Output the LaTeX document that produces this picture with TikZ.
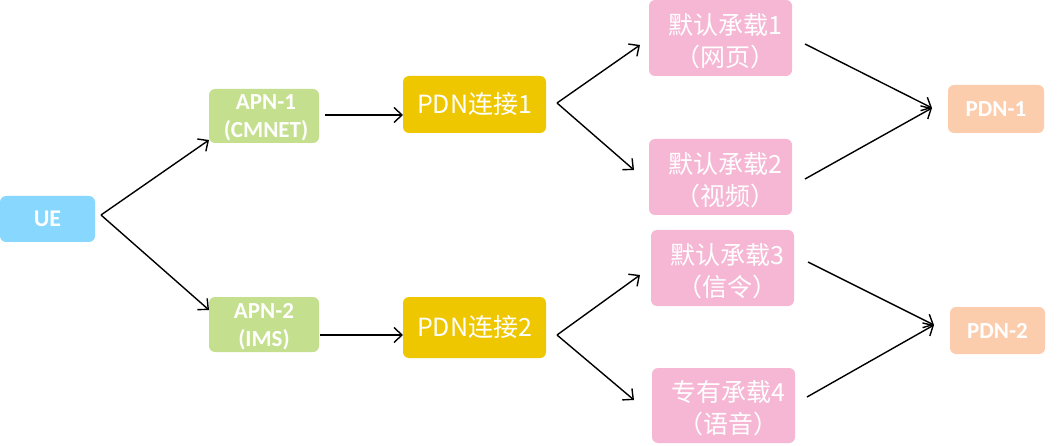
\documentclass[tikz,border=0pt]{standalone}
\usepackage{fontspec}
\setmainfont{Carlito}
\newfontfamily\cjk{Noto Sans CJK SC}
\usetikzlibrary{arrows.meta}
\definecolor{ueblue}{HTML}{87D7FE}
\definecolor{apngreen}{HTML}{C4DF8D}
\definecolor{pdnyellow}{HTML}{EFC700}
\definecolor{bearpink}{HTML}{F5B7D4}
\definecolor{peach}{HTML}{FBCDAD}
\begin{document}
\begin{tikzpicture}[x=1pt,y=-1pt,
  box/.style={rounded corners=6pt, inner sep=0pt, text=white, align=center},
  latinbox/.style={box, font=\bfseries\fontsize{23}{28}\selectfont},
  latintext/.style={text=white, font=\bfseries\fontsize{23}{28}\selectfont, align=center, inner sep=0pt},
  pdnbox/.style={box, fill=pdnyellow, minimum width=143pt, font=\cjk\fontsize{25}{28}\selectfont},
  bearbox/.style={box, fill=bearpink, minimum width=143pt, minimum height=76pt},
  beartext/.style={text=white, font=\cjk\fontsize{25}{32}\selectfont, align=center, inner sep=0pt},
  ar/.style={-{Straight Barb[length=8pt,width=15pt]}, line width=1.4pt}]
\fill[white] (0,0) rectangle (1059,446);
% nodes
\node[latinbox, fill=ueblue, minimum width=95pt, minimum height=46pt, font=\bfseries\fontsize{24}{28}\selectfont] (ue) at (47.5,219) {UE};
\node[box, fill=apngreen, minimum width=110pt, minimum height=54pt] (apn1) at (264,116) {};
\node[latintext] (apn1t) at (266,118) {APN-1\\(CMNET)};
\node[box, fill=apngreen, minimum width=110pt, minimum height=55pt] (apn2) at (264,324.5) {};
\node[latintext] (apn2t) at (264,327) {APN-2\\(IMS)};
\node[pdnbox, minimum height=57pt] (pdn1) at (474.5,104.5) {PDN连接1};
\node[pdnbox, minimum height=61pt] (pdn2) at (474.5,327.5) {PDN连接2};
\node[bearbox] (b1) at (720.5,38) {};
\node[beartext] (b1t) at (725,41) {默认承载1\\（网页）};
\node[bearbox] (b2) at (720.5,177) {};
\node[beartext] (b2t) at (725,180) {默认承载2\\（视频）};
\node[bearbox] (b3) at (722.5,268) {};
\node[beartext] (b3t) at (727,271) {默认承载3\\（信令）};
\node[bearbox, minimum height=75pt] (b4) at (723.5,405.5) {};
\node[beartext] (b4t) at (728,408) {专有承载4\\（语音）};
\node[latinbox, fill=peach, minimum width=96pt, minimum height=48pt] (p1) at (996,109) {PDN-1};
\node[latinbox, fill=peach, minimum width=95pt, minimum height=47pt] (p2) at (997.5,330.5) {PDN-2};
% connector coordinates
\coordinate (ueo) at (101,215);
\coordinate (apn1i) at (209,140);
\coordinate (apn2i) at (209,310);
\coordinate (apn1o) at (325,115);
\coordinate (pdn1i) at (403,115);
\coordinate (apn2o) at (320,335);
\coordinate (pdn2i) at (403,335);
\coordinate (pdn1o) at (557,103);
\coordinate (b1i) at (640,45);
\coordinate (b2i) at (634,170);
\coordinate (pdn2o) at (557,335);
\coordinate (b3i) at (640,275);
\coordinate (b4i) at (634,400);
\coordinate (b1o) at (805,44);
\coordinate (b2o) at (805,179);
\coordinate (p1i) at (932,108);
\coordinate (b3o) at (808,262);
\coordinate (b4o) at (807,397);
\coordinate (p2i) at (934,325);
% connectors
\draw[ar] (ueo) -- (apn1i);
\draw[ar] (ueo) -- (apn2i);
\draw[ar] (apn1o) -- (pdn1i);
\draw[ar] (apn2o) -- (pdn2i);
\draw[ar] (pdn1o) -- (b1i);
\draw[ar] (pdn1o) -- (b2i);
\draw[ar] (pdn2o) -- (b3i);
\draw[ar] (pdn2o) -- (b4i);
\draw[ar] (b1o) -- (p1i);
\draw[ar] (b2o) -- (p1i);
\draw[ar] (b3o) -- (p2i);
\draw[ar] (b4o) -- (p2i);
\end{tikzpicture}
\end{document}
